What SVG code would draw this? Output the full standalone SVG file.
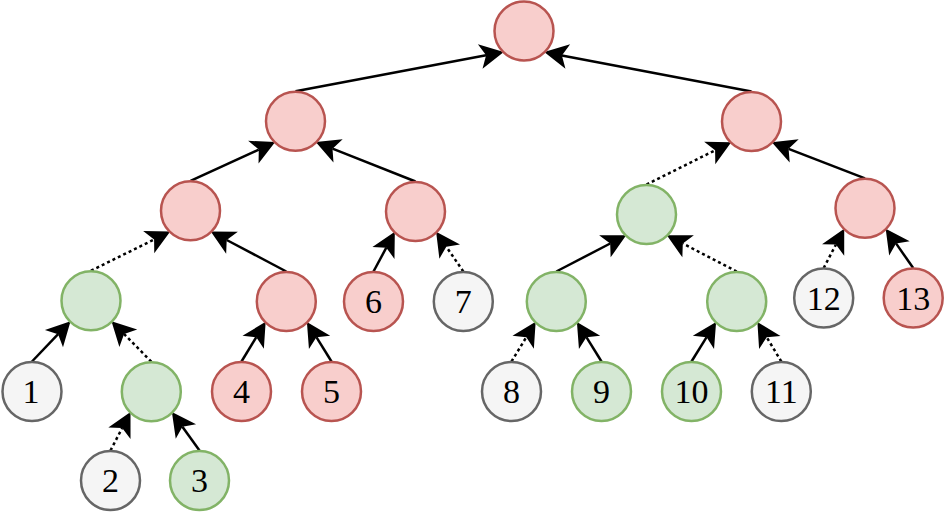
<svg xmlns="http://www.w3.org/2000/svg" width="945" height="516" viewBox="0 0 945 516">
<style>
.n circle{stroke-width:2.5}
.r circle{fill:#f8cecc;stroke:#b85450}
.g circle{fill:#d5e8d4;stroke:#82b366}
.w circle{fill:#f5f5f5;stroke:#666666}
.n text{font-family:"Liberation Serif","DejaVu Serif",serif;font-size:34px;fill:#000;text-anchor:middle}
#edges line{stroke:#000;stroke-width:2.5;fill:none;marker-end:url(#arr)}
#edges line.d{stroke-dasharray:3 3}
</style>
<defs>
<marker id="arr" markerUnits="userSpaceOnUse" markerWidth="26" markerHeight="26" refX="6" refY="12" orient="auto" overflow="visible">
<path d="M24,12 L0,-0.5 L6,12 L0,24.5 Z" fill="#000"/>
</marker>
</defs>
<g id="edges">
<line x1="295.5" y1="91.3" x2="486.1" y2="55.35"/>
<line x1="751.5" y1="91.5" x2="561.9" y2="55.4"/>
<line x1="190.5" y1="180.8" x2="258.8" y2="149.6"/>
<line x1="415.5" y1="181.5" x2="332.5" y2="148.7"/>
<line class="d" x1="646.5" y1="184.5" x2="715.1" y2="150.3"/>
<line x1="865" y1="178.3" x2="788.6" y2="148.8"/>
<line class="d" x1="91" y1="270.7" x2="154.1" y2="239.5"/>
<line x1="286.3" y1="271.5" x2="226.7" y2="240"/>
<line x1="373.5" y1="271.5" x2="386.3" y2="247.7"/>
<line class="d" x1="463.3" y1="271.5" x2="446.3" y2="246.7"/>
<line x1="556.3" y1="271.5" x2="610.2" y2="243.5"/>
<line class="d" x1="736.7" y1="271.5" x2="682.8" y2="243.5"/>
<line class="d" x1="823.7" y1="268" x2="835.9" y2="244.6"/>
<line x1="913.2" y1="268" x2="896" y2="243.4"/>
<line x1="32" y1="361.5" x2="58.1" y2="334.2"/>
<line class="d" x1="151.3" y1="361.7" x2="124.1" y2="334"/>
<line x1="241.5" y1="361.5" x2="256.3" y2="337.2"/>
<line x1="331.5" y1="361.5" x2="316.4" y2="337.2"/>
<line class="d" x1="511.5" y1="361.5" x2="526.3" y2="337.2"/>
<line x1="601.5" y1="361.5" x2="586.4" y2="337.2"/>
<line x1="691.5" y1="361.5" x2="706.6" y2="337.2"/>
<line class="d" x1="781.3" y1="361.5" x2="766.7" y2="337.3"/>
<line class="d" x1="110.5" y1="450.5" x2="122.2" y2="428"/>
<line x1="199.5" y1="450.5" x2="182.4" y2="426.7"/>
</g>
<g id="root" class="n r"><circle cx="524" cy="31" r="29.5"/></g>
<g id="l1a" class="n r"><circle cx="295.5" cy="121.3" r="29.5"/></g>
<g id="l1b" class="n r"><circle cx="751.5" cy="121.5" r="29.5"/></g>
<g id="l2a" class="n r"><circle cx="190.5" cy="210.8" r="29.5"/></g>
<g id="l2b" class="n r"><circle cx="415.5" cy="211.5" r="29.5"/></g>
<g id="l2c" class="n g"><circle cx="646.5" cy="214.5" r="29.5"/></g>
<g id="l2d" class="n r"><circle cx="865" cy="208.3" r="29.5"/></g>
<g id="l3a" class="n g"><circle cx="91" cy="300.7" r="29.5"/></g>
<g id="l3b" class="n r"><circle cx="286.3" cy="301.5" r="29.5"/></g>
<g id="n6" class="n r"><circle cx="373.5" cy="301.5" r="29.5"/><text x="373.5" y="313">6</text></g>
<g id="n7" class="n w"><circle cx="463.3" cy="301.5" r="29.5"/><text x="463.3" y="313">7</text></g>
<g id="l3c" class="n g"><circle cx="556.3" cy="301.5" r="29.5"/></g>
<g id="l3d" class="n g"><circle cx="736.7" cy="301.5" r="29.5"/></g>
<g id="n12" class="n w"><circle cx="823.7" cy="298" r="29.5"/><text x="823.7" y="309.5">12</text></g>
<g id="n13" class="n r"><circle cx="913.2" cy="298" r="29.5"/><text x="913.2" y="309.5">13</text></g>
<g id="n1" class="n w"><circle cx="32" cy="391.5" r="29.5"/><text x="31" y="403">1</text></g>
<g id="l4" class="n g"><circle cx="151.3" cy="391.7" r="29.5"/></g>
<g id="n4" class="n r"><circle cx="241.5" cy="391.5" r="29.5"/><text x="241.5" y="403">4</text></g>
<g id="n5" class="n r"><circle cx="331.5" cy="391.5" r="29.5"/><text x="331.5" y="403">5</text></g>
<g id="n8" class="n w"><circle cx="511.5" cy="391.5" r="29.5"/><text x="511.5" y="403">8</text></g>
<g id="n9" class="n g"><circle cx="601.5" cy="391.5" r="29.5"/><text x="601.5" y="403">9</text></g>
<g id="n10" class="n g"><circle cx="691.5" cy="391.5" r="29.5"/><text x="691.5" y="403">10</text></g>
<g id="n11" class="n w"><circle cx="781.3" cy="391.5" r="29.5"/><text x="781.3" y="403">11</text></g>
<g id="n2" class="n w"><circle cx="110.5" cy="480.5" r="29.5"/><text x="110.5" y="492">2</text></g>
<g id="n3" class="n g"><circle cx="199.5" cy="480.5" r="29.5"/><text x="199.5" y="492">3</text></g>
</svg>
